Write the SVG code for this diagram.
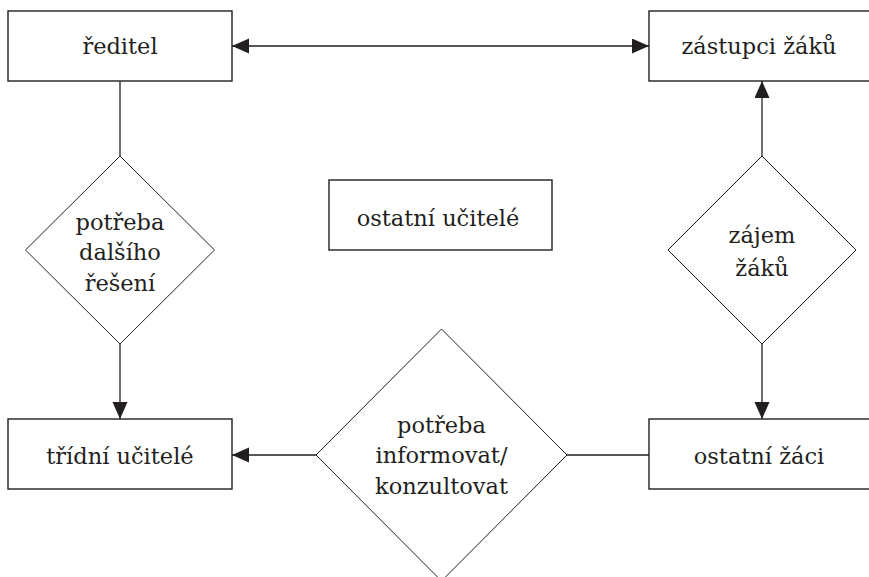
<svg xmlns="http://www.w3.org/2000/svg" width="869" height="577" viewBox="0 0 869 577">
<defs>
<marker id="ah" markerUnits="userSpaceOnUse" markerWidth="18" markerHeight="16" refX="17" refY="7.5" orient="auto-start-reverse">
<path d="M0,0 L17,7.5 L0,15 Z" fill="#231f20"/>
</marker>
<style>
.box{fill:#fff;stroke:#231f20;stroke-width:1.4}
.dia{fill:#fff;stroke:#231f20;stroke-width:1}
.ln{fill:none;stroke:#231f20;stroke-width:1.3}
text{font-family:"DejaVu Serif","Liberation Serif",serif;font-size:22.5px;fill:#231f20;text-anchor:middle}
</style>
</defs>
<rect width="869" height="577" fill="#fff"/>
<g id="connectors">
<line class="ln" x1="232" y1="46" x2="649" y2="46" marker-start="url(#ah)" marker-end="url(#ah)"/>
<line class="ln" x1="120" y1="81" x2="120" y2="156"/>
<line class="ln" x1="120" y1="344" x2="120" y2="419" marker-end="url(#ah)"/>
<line class="ln" x1="762" y1="156" x2="762" y2="81" marker-end="url(#ah)"/>
<line class="ln" x1="762" y1="344" x2="762" y2="419" marker-end="url(#ah)"/>
<line class="ln" x1="316" y1="455" x2="232" y2="455" marker-end="url(#ah)"/>
<line class="ln" x1="567" y1="455" x2="649" y2="455"/>
</g>
<g id="reditel">
<rect class="box" x="8" y="11" width="224" height="70"/>
<text x="120" y="54">ředitel</text>
</g>
<g id="zastupci">
<rect class="box" x="649" y="11" width="224" height="70"/>
<text x="759" y="54">zástupci žáků</text>
</g>
<g id="ostatni-ucitele">
<rect class="box" x="329" y="180" width="223" height="70"/>
<text x="438" y="226">ostatní učitelé</text>
</g>
<g id="potreba-reseni">
<polygon class="dia" points="120,156 214.5,250 120,344 25.5,250"/>
<text x="120" y="230">potřeba</text>
<text x="120" y="260">dalšího</text>
<text x="120" y="291">řešení</text>
</g>
<g id="zajem">
<polygon class="dia" points="762,156 856,250 762,344 668,250"/>
<text x="762" y="243">zájem</text>
<text x="762" y="276">žáků</text>
</g>
<g id="tridni">
<rect class="box" x="8" y="419" width="224" height="70"/>
<text x="120" y="464">třídní učitelé</text>
</g>
<g id="ostatni-zaci">
<rect class="box" x="649" y="419" width="224" height="70"/>
<text x="759" y="464">ostatní žáci</text>
</g>
<g id="potreba-informovat">
<polygon class="dia" points="441.5,329 567,455 441.5,581 316,455"/>
<text x="441.5" y="433">potřeba</text>
<text x="441.5" y="463">informovat/</text>
<text x="441.5" y="494">konzultovat</text>
</g>
</svg>
